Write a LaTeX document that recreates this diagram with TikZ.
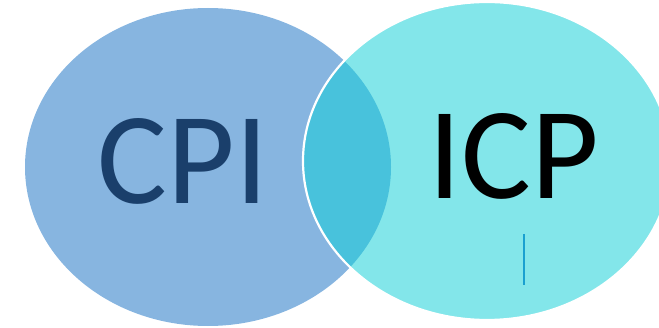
\documentclass[tikz,border=0pt]{standalone}
\usepackage{fontspec}
\setmainfont{Carlito}
\usepackage{tikz}
\usetikzlibrary{calc}

\definecolor{cpiblue}{HTML}{87B5E0}
\definecolor{icpcyan}{HTML}{83E6EA}
\definecolor{overlapcyan}{HTML}{48C2DC}
\definecolor{cpitext}{HTML}{1A3F6B}
\definecolor{cursorblue}{HTML}{1AA0D0}

\begin{document}
\begin{tikzpicture}[x=1pt, y=1pt,
  bigtext/.style={font=\fontsize{131}{131}\selectfont, inner sep=0pt}]
 \useasboundingbox (0,0) rectangle (659,327);
 \clip (0,0) rectangle (659,327);
 % left set
 \fill[cpiblue] (208,160) ellipse [x radius=183, y radius=159];
 % right set
 \fill[icpcyan] (487,166) ellipse [x radius=184, y radius=159];
 % overlap
 \begin{scope}
  \clip (208,160) ellipse [x radius=183, y radius=159];
  \fill[overlapcyan] (487,166) ellipse [x radius=184, y radius=159];
 \end{scope}
 \draw[white, line width=2.2pt] (487,166) ellipse [x radius=184, y radius=159];
 % labels
 \node[bigtext, text=cpitext] (cpi) at (183,166) {CPI};
 \node[bigtext, text=black] (icp) at (514,171) {ICP};
 % cursor
 \coordinate (cursortop) at (524,93);
 \coordinate (cursorbot) at (524,42);
 \draw[cursorblue, line width=2pt] (cursortop) -- (cursorbot);
\end{tikzpicture}
\end{document}
